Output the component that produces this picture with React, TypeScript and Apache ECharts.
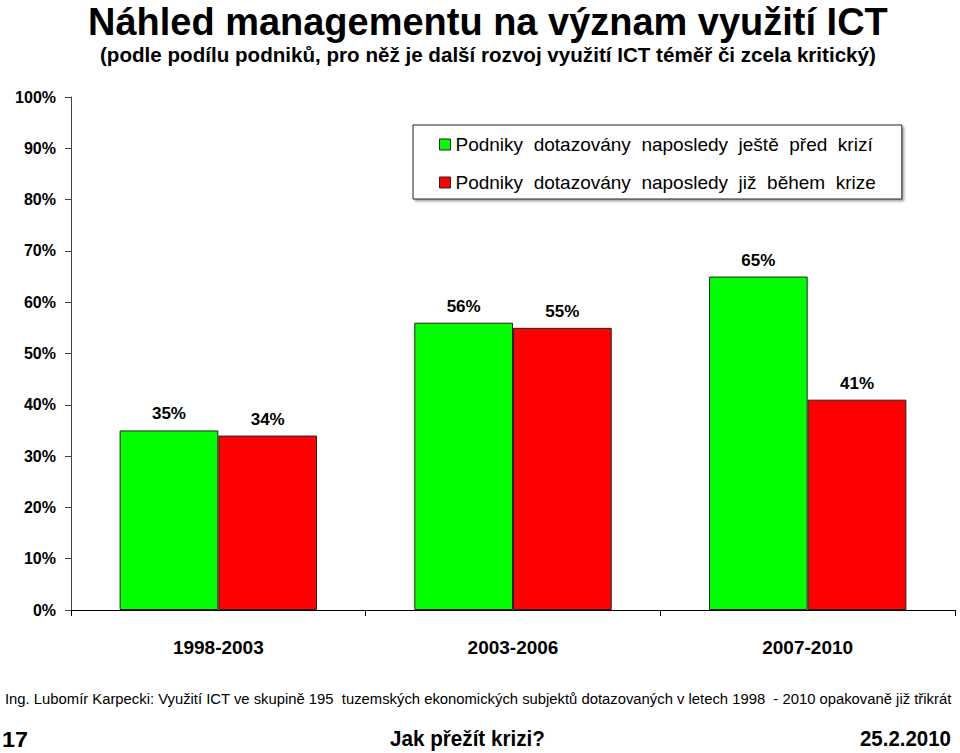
import React, { useEffect, useRef } from "react";
import * as echarts from "echarts";

const categories = ["1998-2003", "2003-2006", "2007-2010"];
const seriesNames = [
  "Podniky dotazovány naposledy ještě před krizí",
  "Podniky dotazovány naposledy již během krize",
];
const beforeCrisis = [35, 56, 65];
const duringCrisis = [34, 55, 41];
const titleText = "Náhled managementu na význam využití ICT";
const subtitleText =
  "(podle podílu podniků, pro něž je další rozvoj využití ICT téměř či zcela kritický)";
const sourceText =
  "Ing. Lubomír Karpecki: Využití ICT ve skupině 195  tuzemských ekonomických subjektů dotazovaných v letech 1998  - 2010 opakovaně již třikrát";
const pageNumber = "17";
const footerTitle = "Jak přežít krizi?";
const footerDate = "25.2.2010";

const FONT = '"Liberation Sans", Arial, sans-serif';

function measure(text: string, weight: string, size: number): number {
  const ctx = document.createElement("canvas").getContext("2d");
  if (!ctx) return text.length * size * 0.55;
  ctx.font = `${weight} ${size}px "Liberation Sans"`;
  return ctx.measureText(text).width;
}

function fitText(
  text: string,
  weight: string,
  size: number,
  left: number,
  right: number,
  cy: number
) {
  const w = measure(text, weight, size);
  const s = (right - left) / w;
  return {
    type: "text",
    x: left,
    y: cy,
    scaleX: s,
    scaleY: 1,
    style: {
      text,
      fill: "#000",
      fontSize: size,
      fontWeight: weight,
      fontFamily: FONT,
      align: "left",
      verticalAlign: "middle",
    },
  };
}

export default function App() {
  const ref = useRef<HTMLDivElement>(null);
  useEffect(() => {
    document.body.style.margin = "0";
    if (!ref.current) return;
    const chart = echarts.init(ref.current, undefined, { renderer: "svg" });
    const labelStyle = {
      show: true,
      position: "top" as const,
      distance: 8,
      formatter: "{c}%",
      color: "#000",
      fontSize: 17,
      fontWeight: "bold" as const,
      fontFamily: FONT,
    };
    chart.setOption({
      animation: false,
      backgroundColor: "#fff",
      textStyle: { fontFamily: FONT },
      grid: { left: 71, right: 5, top: 97, bottom: 143, containLabel: false },
      legend: {
        orient: "vertical",
        left: 413,
        top: 125,
        icon: "rect",
        itemWidth: 11,
        itemHeight: 11,
        itemGap: 19,
        padding: [10, 26, 7, 26],
        backgroundColor: "#fff",
        borderColor: "#222",
        borderWidth: 1,
        shadowColor: "rgba(0,0,0,0.35)",
        shadowOffsetX: 2,
        shadowOffsetY: 2,
        shadowBlur: 2,
        selectedMode: false,
        itemStyle: { borderColor: "#222", borderWidth: 1 },
        formatter: (name: string) => name.replace(/ /g, "  "),
        textStyle: {
          fontSize: 19,
          lineHeight: 19,
          color: "#000",
          fontFamily: FONT,
        },
        data: seriesNames,
      },
      xAxis: {
        type: "category",
        data: categories,
        boundaryGap: true,
        axisLine: { lineStyle: { color: "#000", width: 1 } },
        axisTick: { show: true, length: 6, lineStyle: { color: "#000" } },
        axisLabel: {
          margin: 28,
          color: "#000",
          fontSize: 19,
          fontWeight: "bold",
          fontFamily: FONT,
        },
      },
      yAxis: {
        type: "value",
        min: 0,
        max: 100,
        interval: 10,
        splitLine: { show: false },
        axisLine: { show: true, lineStyle: { color: "#444", width: 1 } },
        axisTick: { show: true, length: 6, lineStyle: { color: "#444" } },
        axisLabel: {
          formatter: "{value}%",
          margin: 15,
          color: "#000",
          fontSize: 16,
          fontWeight: "bold",
          fontFamily: FONT,
        },
      },
      series: [
        {
          name: seriesNames[0],
          type: "bar",
          data: beforeCrisis,
          barGap: "0%",
          barCategoryGap: "33%",
          itemStyle: { color: "#00FF00", borderColor: "#222", borderWidth: 1 },
          label: labelStyle,
        },
        {
          name: seriesNames[1],
          type: "bar",
          data: duringCrisis,
          barGap: "0%",
          barCategoryGap: "33%",
          itemStyle: { color: "#FF0000", borderColor: "#222", borderWidth: 1 },
          label: labelStyle,
        },
      ],
      graphic: [
        fitText(titleText, "bold", 39, 88, 888, 21),
        fitText(subtitleText, "bold", 20, 100, 876, 55),
        fitText(sourceText, "normal", 15, 5, 952, 699),
        fitText(pageNumber, "bold", 22, 2, 28, 739),
        fitText(footerTitle, "bold", 22, 390, 545, 739),
        fitText(footerDate, "bold", 22, 860, 951, 739),
      ],
    });
    return () => chart.dispose();
  }, []);
  return <div ref={ref} style={{ width: 960, height: 753 }} />;
}
